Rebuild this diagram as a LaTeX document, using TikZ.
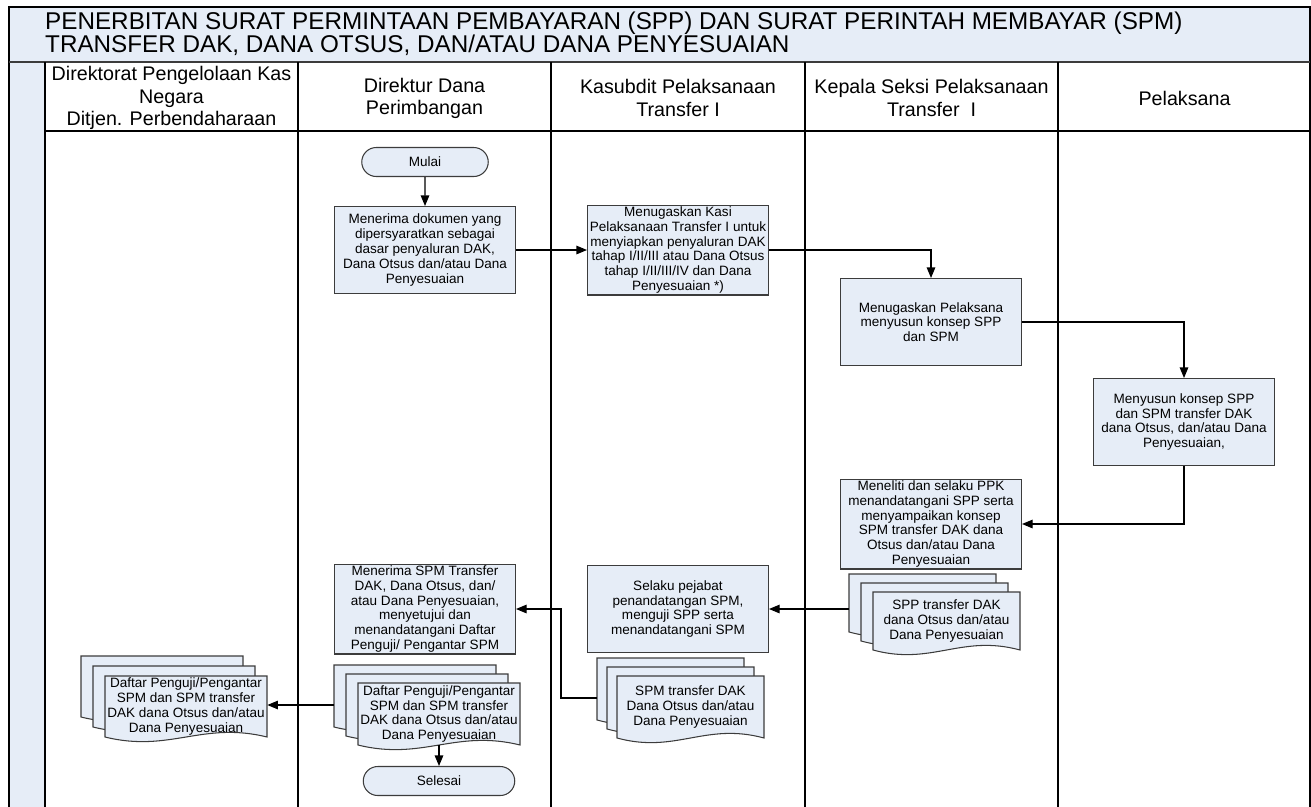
\documentclass[tikz,border=0pt]{standalone}
\usepackage{fontspec}
\setmainfont{Liberation Sans}
\usetikzlibrary{arrows.meta,shapes.misc}

\definecolor{isian}{RGB}{230,237,247}
\definecolor{garis}{RGB}{60,60,60}

% tumpukan tiga lembar dokumen: nama, x, y, lebar, tinggi, geser x, geser y, teks
\newcommand\tumpukdok[8]{%
  \foreach \k in {0,1,2}{%
    \draw[lembar] ({#2+\k*#6},{#3+\k*#7}) -- ++(#4,0) -- ++(0,#5)
      .. controls ({#2+\k*#6+0.6*#4},{#3+\k*#7+#5-16}) and ({#2+\k*#6+0.4*#4},{#3+\k*#7+#5+16})
      .. ({#2+\k*#6},{#3+\k*#7+#5}) -- cycle;
  }
  \node[teksdok, minimum width={#4*0.2mm}, minimum height={#5*0.2mm}]
    (#1) at ({#2+2*#6+#4/2},{#3+2*#7+#5/2}) {#8};
  \coordinate (#1-b) at (#2,{#3+#7+#5/2});
}

\begin{document}
\begin{tikzpicture}[x=0.2mm,y=-0.2mm]
\tikzset{
    >={Triangle[length=2.1mm,width=1.7mm]},
    panah/.style={->, line width=0.6pt, black},
    proses/.style={rectangle, line width=0.6pt, draw=garis, fill=isian,
                   minimum width=36.2mm, minimum height=17.4mm, inner sep=1pt,
                   align=center, font=\fontsize{7.7}{8.4}\selectfont},
    terminal/.style={rounded rectangle, line width=0.6pt, draw=garis, fill=isian,
                     minimum width=26mm, minimum height=5.8mm, inner sep=1pt,
                     font=\fontsize{7.7}{8.4}\selectfont},
    lembar/.style={line width=0.6pt, draw=garis, fill=isian},
    teksdok/.style={align=center, inner sep=0pt, font=\fontsize{7.7}{8.4}\selectfont},
    kepala/.style={align=center, font=\fontsize{11.2}{12.6}\selectfont},
    lajur/.style={line width=0.7pt, black},
    bingkai/.style={line width=1pt, black},
    garisjudul/.style={line width=1.4pt, garis}
}
\useasboundingbox (0,0) rectangle (1311,806);
\clip (0,0) rectangle (1311,806);

% latar, judul dan lajur
\fill[isian] (9,7) rectangle (1310,62);
\fill[isian] (9,62) rectangle (45,812);
\draw[bingkai] (9,812) -- (9,7) -- (1310,7) -- (1310,812);
\draw[garisjudul] (9,62) -- (1310,62);
\draw[lajur] (45,131) -- (1310,131);
\foreach \x in {45,298,551,805,1058}
  \draw[lajur] (\x,62) -- (\x,812);

\node[anchor=west, align=left, font=\fontsize{13.8}{13.2}\selectfont] (judul) at (39,34)
  {PENERBITAN SURAT PERMINTAAN PEMBAYARAN (SPP) DAN SURAT PERINTAH MEMBAYAR (SPM)\\
   TRANSFER DAK, DANA OTSUS, DAN/ATAU DANA PENYESUAIAN};

\node[kepala] (lajur1) at (171.5,98) {Direktorat Pengelolaan Kas\\Negara\\Ditjen. Perbendaharaan};
\node[kepala] (lajur2) at (424.5,98) {Direktur Dana\\Perimbangan};
\node[kepala] (lajur3) at (678,98)   {Kasubdit Pelaksanaan\\Transfer I};
\node[kepala] (lajur4) at (931.5,98) {Kepala Seksi Pelaksanaan\\Transfer~ I};
\node[kepala] (lajur5) at (1184.5,98) {Pelaksana};

% langkah-langkah
\node[terminal] (mulai) at (425,162) {Mulai};
\node[proses] (p1) at (425,250)
  {Menerima dokumen yang\\dipersyaratkan sebagai\\dasar penyaluran DAK,\\Dana Otsus dan/atau Dana\\Penyesuaian};
\node[proses] (p2) at (678,250)
  {Menugaskan Kasi\\Pelaksanaan Transfer I untuk\\menyiapkan penyaluran DAK\\tahap I/II/III atau Dana Otsus\\tahap I/II/III/IV dan Dana\\Penyesuaian *)};
\node[proses] (p3) at (931,322)
  {Menugaskan Pelaksana\\menyusun konsep SPP\\dan SPM};
\node[proses] (p4) at (1184,422)
  {Menyusun konsep SPP\\dan SPM transfer DAK\\dana Otsus, dan/atau Dana\\Penyesuaian,};
\node[proses] (p5) at (931,524)
  {Meneliti dan selaku PPK\\menandatangani SPP serta\\menyampaikan konsep\\SPM transfer DAK dana\\Otsus dan/atau Dana\\Penyesuaian};
\node[proses] (p6) at (678,609)
  {Selaku pejabat\\penandatangan SPM,\\menguji SPP serta\\menandatangani SPM};
\node[proses] (p7) at (425,609)
  {Menerima SPM Transfer\\DAK, Dana Otsus, dan/\\atau Dana Penyesuaian,\\menyetujui dan\\menandatangani Daftar\\Penguji/ Pengantar SPM};

\tumpukdok{dokspp}{849}{574}{147}{58}{12}{9}{SPP transfer DAK\\dana Otsus dan/atau\\Dana Penyesuaian}
\tumpukdok{dokspm}{597}{658}{147}{62}{10}{9}{SPM transfer DAK\\Dana Otsus dan/atau\\Dana Penyesuaian}
\tumpukdok{daftar2}{334}{665}{162}{62}{12}{9}{Daftar Penguji/Pengantar\\SPM dan SPM transfer\\DAK dana Otsus dan/atau\\Dana Penyesuaian}
\tumpukdok{daftar1}{81}{656}{162}{61}{12}{10}{Daftar Penguji/Pengantar\\SPM dan SPM transfer\\DAK dana Otsus dan/atau\\Dana Penyesuaian}

\node[terminal, minimum width=31mm] (selesai) at (439,781) {Selesai};

% alur
\draw[panah] (mulai) -- (p1);
\draw[panah] (p1) -- (p2);
\draw[panah] (p2) -| (p3);
\draw[panah] (p3) -| (p4);
\draw[panah] (p4) |- (p5);
\draw[panah] (p6.east -| dokspp-b) -- (p6);
\draw[panah] (dokspm-b) -- ++(-36,0) |- (p7);
\draw[panah] (daftar2-b) -- (daftar2-b -| daftar1.east);
\draw[panah] (daftar2.south) -- (selesai.north);
\end{tikzpicture}
\end{document}
